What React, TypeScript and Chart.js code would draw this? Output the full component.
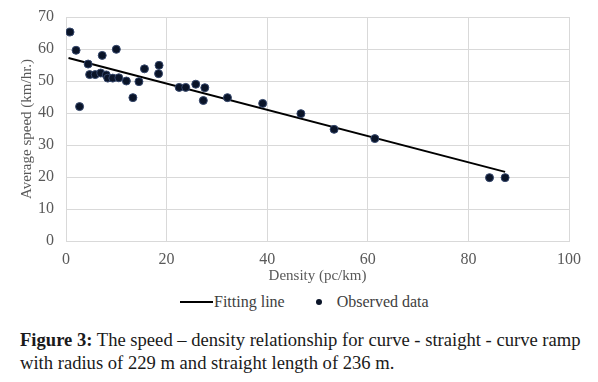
import React, { useEffect, useRef } from "react";
import { Chart, registerables } from "chart.js";

Chart.register(...registerables);

// Observed data (density pc/km, average speed km/hr)
const densityObserved = [0.8, 2.0, 2.7, 4.4, 4.7, 5.8, 6.9, 7.2, 8.0, 8.3, 9.3, 10.0, 10.5, 12.0, 13.3, 14.5, 15.6, 18.4, 18.5, 22.5, 23.8, 25.8, 27.3, 27.6, 32.1, 39.1, 46.7, 53.3, 61.4, 84.2, 87.3];
const speedObserved = [65.3, 59.6, 42.0, 55.3, 52.0, 52.0, 52.5, 58.0, 51.9, 50.9, 50.9, 59.9, 51.0, 50.0, 44.8, 49.8, 53.8, 52.3, 54.9, 48.0, 48.0, 49.0, 43.9, 47.9, 44.8, 43.0, 39.8, 34.9, 32.0, 19.8, 19.8];

// Fitting line end points
const densityFit = [0.5, 87.3];
const speedFit = [57.2, 21.6];

// Axis ticks
const xTicks = [0, 20, 40, 60, 80, 100];
const yTicks = [0, 10, 20, 30, 40, 50, 60, 70];

const xTitle = "Density (pc/km)";
const yTitle = "Average speed (km/hr.)";
const legendLine = "Fitting line";
const legendDots = "Observed data";

const SERIF = "'Liberation Serif', 'Times New Roman', serif";

export default function App() {
  const canvasRef = useRef<HTMLCanvasElement | null>(null);

  useEffect(() => {
    const canvas = canvasRef.current;
    if (!canvas) return;
    const chart = new Chart(canvas, {
      type: "scatter",
      data: {
        datasets: [
          {
            label: legendDots,
            data: densityObserved.map((x, i) => ({ x, y: speedObserved[i] })),
            backgroundColor: "#0a1428",
            borderColor: "#34466b",
            borderWidth: 1,
            pointRadius: 4,
            pointHoverRadius: 4,
            order: 1,
          },
          {
            type: "line",
            label: legendLine,
            data: densityFit.map((x, i) => ({ x, y: speedFit[i] })),
            borderColor: "#000000",
            backgroundColor: "#000000",
            borderWidth: 2,
            pointRadius: 0,
            showLine: true,
            fill: false,
            order: 2,
          } as any,
        ],
      },
      options: {
        animation: false,
        responsive: false,
        maintainAspectRatio: false,
        events: [],
        layout: { padding: { left: 0, right: 21, top: 9, bottom: 0 } },
        plugins: {
          legend: { display: false },
          tooltip: { enabled: false },
        },
        scales: {
          x: {
            type: "linear",
            min: 0,
            max: 100,
            afterBuildTicks: (s: any) => {
              s.ticks = xTicks.map((v) => ({ value: v }));
            },
            afterFit: (s: any) => {
              s.height = 49;
            },
            grid: { color: "#d9d9d9", drawTicks: false, lineWidth: 1 },
            border: { color: "#d9d9d9" },
            ticks: {
              padding: 9,
              color: "#595959",
              font: { family: SERIF, size: 16 },
              maxRotation: 0,
            },
            title: {
              display: true,
              text: xTitle,
              color: "#595959",
              font: { family: SERIF, size: 15 },
              padding: { top: 0, bottom: 5 },
            },
          },
          y: {
            type: "linear",
            min: 0,
            max: 70,
            afterBuildTicks: (s: any) => {
              s.ticks = yTicks.map((v) => ({ value: v }));
            },
            afterFit: (s: any) => {
              s.width = 58;
              s.paddingTop = 9;
              s.paddingBottom = 0;
            },
            grid: { color: "#d9d9d9", drawTicks: false, lineWidth: 1 },
            border: { color: "#d9d9d9" },
            ticks: {
              padding: 12,
              color: "#595959",
              font: { family: SERIF, size: 16 },
            },
            title: {
              display: true,
              text: yTitle,
              color: "#595959",
              font: { family: SERIF, size: 15 },
              padding: { top: 10, bottom: 0 },
            },
          },
        },
      },
    });
    return () => chart.destroy();
  }, []);

  return (
    <div style={{ position: "relative", width: 582, height: 366, overflow: "hidden" }}>
      <canvas ref={canvasRef} width={582} height={282} style={{ display: "block" }} />
      <div
        style={{
          position: "absolute",
          left: 172,
          top: 285,
          height: 18,
          display: "flex",
          alignItems: "center",
          fontFamily: SERIF,
          fontSize: 16,
          color: "#404040",
          whiteSpace: "nowrap",
        }}
      >
        <span style={{ display: "inline-block", width: 33, height: 2, background: "#000", marginRight: 1 }} />
        <span>{legendLine}</span>
        <span
          style={{
            display: "inline-block",
            width: 6,
            height: 6,
            borderRadius: 3,
            background: "#0a1428",
            marginLeft: 31,
            marginRight: 15,
          }}
        />
        <span>{legendDots}</span>
      </div>
      <div
        style={{
          position: "absolute",
          left: 12,
          top: 320,
          fontFamily: SERIF,
          fontSize: 18.6,
          lineHeight: "23px",
          color: "#1a1a1a",
          whiteSpace: "nowrap",
        }}
      >
        <b>Figure 3:</b> The speed – density relationship for curve - straight - curve ramp
        <br />
        with radius of 229 m and straight length of 236 m.
      </div>
    </div>
  );
}
